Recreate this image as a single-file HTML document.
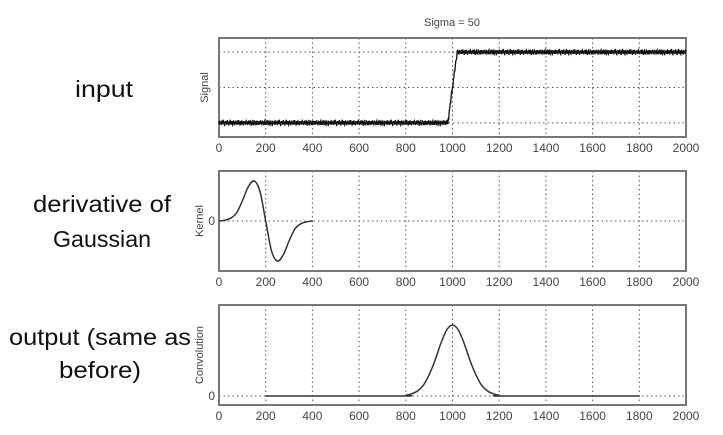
<!DOCTYPE html>
<html><head><meta charset="utf-8"><style>
html,body{margin:0;padding:0;background:#fff;}
svg{display:block;font-family:"Liberation Sans",sans-serif;}
</style></head><body>
<svg id="chart" width="723" height="435" viewBox="0 0 723 435">
<g fill="#111" font-size="23" lengthAdjust="spacingAndGlyphs">
<text x="104" y="97" text-anchor="middle" textLength="58" lengthAdjust="spacingAndGlyphs">input</text>
<text x="102" y="212" text-anchor="middle" textLength="138" lengthAdjust="spacingAndGlyphs">derivative of</text>
<text x="102" y="247" text-anchor="middle" textLength="98" lengthAdjust="spacingAndGlyphs">Gaussian</text>
<text x="100" y="345" text-anchor="middle" textLength="182" lengthAdjust="spacingAndGlyphs">output (same as</text>
<text x="100" y="378" text-anchor="middle" textLength="82" lengthAdjust="spacingAndGlyphs">before)</text>
</g>
<text x="452" y="26" text-anchor="middle" font-size="11" fill="#444">Sigma = 50</text>
<g id="plots"></g>
</svg>
<script>
const xTicks = [0,200,400,600,800,1000,1200,1400,1600,1800,2000];
const signalX = [0,980,1020,2000];
const signalY = [-1,-1,1,1];
const noise = [0.04,-0.05,0.06,-0.02,0.03,-0.06,0.05,0.01,-0.04,0.07,-0.03,0.02,-0.07,0.05,-0.01,0.04,-0.05,0.03,0.06,-0.04,0.02,-0.06,0.05,-0.02,0.07,-0.05,0.01,0.04,-0.03,-0.06,0.03,0.05,-0.04,0.02,-0.07,0.06,-0.01,0.03,-0.05,0.04];
const kernelX = [0,25,50,75,100,125,150,175,200,225,250,275,300,325,350,375,400];
const kernelY = [0,0.02,0.07,0.2,0.5,0.85,1,0.75,0,-0.75,-1,-0.85,-0.5,-0.2,-0.07,-0.02,0];
const convX = [200,775,800,825,850,875,900,925,950,975,1000,1025,1050,1075,1100,1125,1150,1175,1200,1225,1800];
const convY = [0,0,0.01,0.03,0.07,0.15,0.3,0.5,0.74,0.93,1,0.93,0.74,0.5,0.3,0.15,0.07,0.03,0.01,0,0];

const NS="http://www.w3.org/2000/svg";
const root=document.getElementById('plots');
function mk(tag,attrs,parent){const e=document.createElementNS(NS,tag);for(const k in attrs)e.setAttribute(k,attrs[k]);(parent||root).appendChild(e);return e;}
const X0=219,X1=686;
function xs(v){return X0+(v/2000)*(X1-X0);}
function smooth(pts){let d='M'+pts[0][0]+','+pts[0][1];for(let i=0;i<pts.length-1;i++){const p0=pts[Math.max(0,i-1)],p1=pts[i],p2=pts[i+1],p3=pts[Math.min(pts.length-1,i+2)];const c1x=p1[0]+(p2[0]-p0[0])/6,c1y=p1[1]+(p2[1]-p0[1])/6,c2x=p2[0]-(p3[0]-p1[0])/6,c2y=p2[1]-(p3[1]-p1[1])/6;d+=' C'+c1x+','+c1y+' '+c2x+','+c2y+' '+p2[0]+','+p2[1];}return d;}

function panel(name,top,bot,ymin,ymax,yGrid,yLabels,ylab,ylabX){
  const g=mk('g',{});
  
  
  const ys=v=>bot-(v-ymin)/(ymax-ymin)*(bot-top);
  xTicks.forEach(t=>{
    if(t>0&&t<2000){const l=mk('line',{x1:xs(t),x2:xs(t),y1:top,y2:bot,stroke:'#555','stroke-width':1,'stroke-dasharray':'1.5,3'},g);
    
    }
    const tx=mk('text',{x:xs(t),y:bot+15,'text-anchor':'middle','font-size':12,fill:'#444'},g);
    
    
    tx.textContent=t;
  });
  yGrid.forEach((v,i)=>{
    const l=mk('line',{x1:X0,x2:X1,y1:ys(v),y2:ys(v),stroke:'#555','stroke-width':1,'stroke-dasharray':'1.5,3'},g);
    
    
    if(yLabels[i]!==''){const tx=mk('text',{x:X0-4,y:ys(v)+4,'text-anchor':'end','font-size':12,fill:'#444'},g);
    
    
    tx.textContent=yLabels[i];}
  });
  const yl=mk('text',{x:ylabX,y:(top+bot)/2,'text-anchor':'middle','font-size':11,fill:'#444',transform:'rotate(-90 '+ylabX+' '+(top+bot)/2+')'},g);
  
  
  yl.textContent=ylab;
  const fr=mk('rect',{x:X0,y:top,width:X1-X0,height:bot-top,fill:'none',stroke:'#777','stroke-width':2},g);
  
  
  return {g,ys};
}

const p1=panel('signal-panel',38,137,-1.4,1.4,[1,0,-1],['','',''],'Signal',208);
let pts=[];
for(let x=0;x<=2000;x+=2){
  let base;
  for(let i=0;i<signalX.length-1;i++){if(x>=signalX[i]&&x<=signalX[i+1]){const f=(x-signalX[i])/(signalX[i+1]-signalX[i]);base=signalY[i]+f*(signalY[i+1]-signalY[i]);break;}}
  const n=noise[(x/2)%noise.length]*(x%6===0?1.3:1);
  pts.push(xs(x).toFixed(2)+','+p1.ys(base+n).toFixed(2));
}
const s=mk('polyline',{points:pts.join(' '),fill:'none',stroke:'#111','stroke-width':1.3},p1.g);



const p2=panel('kernel-panel',171,271,-1.25,1.25,[0],['0'],'Kernel',203);
const k=mk('path',{d:smooth(kernelX.map((x,i)=>[xs(x),p2.ys(kernelY[i])])),fill:'none',stroke:'#333','stroke-width':1.5},p2.g);



const p3=panel('convolution-panel',305,405,-0.127,1.282,[0],['0'],'Convolution',203);
const c=mk('path',{d:smooth(convX.map((x,i)=>[xs(x),p3.ys(convY[i])])),fill:'none',stroke:'#333','stroke-width':1.5},p3.g);


</script>
</body></html>
